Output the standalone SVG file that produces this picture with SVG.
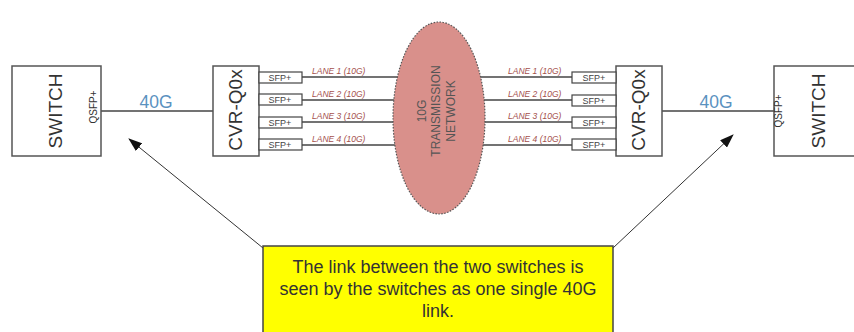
<svg xmlns="http://www.w3.org/2000/svg" width="854" height="332" viewBox="0 0 854 332">
<style>
.box{fill:#fff;stroke:#555;stroke-width:1.5}
.sfp{fill:#fff;stroke:#444;stroke-width:1.2}
.ln{stroke:#444;stroke-width:1.3;fill:none}
.big{font-family:"Liberation Sans",Arial,sans-serif;font-size:19px;fill:#333;text-anchor:middle}
.sm{font-family:"Liberation Sans",Arial,sans-serif;font-size:9px;fill:#444;text-anchor:middle}
.q{font-family:"Liberation Sans",Arial,sans-serif;font-size:10px;fill:#333;text-anchor:middle}
.lane{font-family:"Liberation Sans",Arial,sans-serif;font-size:8.5px;font-style:italic;fill:#a4504c}
.g{font-family:"Liberation Sans",Arial,sans-serif;font-size:17.5px;fill:#5a92bf;text-anchor:middle}
.net{font-family:"Liberation Sans",Arial,sans-serif;font-size:12px;fill:#555;text-anchor:middle}
.note{font-family:"Liberation Sans",Arial,sans-serif;font-size:18px;fill:#333;text-anchor:middle}
</style>
<defs>
<marker id="ah" viewBox="0 0 14 10" refX="13" refY="5" markerWidth="14" markerHeight="10" markerUnits="userSpaceOnUse" orient="auto">
<path d="M0,0 L14,5 L0,10 z" fill="#111"/>
</marker>
</defs>
<g id="connectors">
<line class="ln" x1="101" y1="111" x2="213" y2="111"/>
<line class="ln" x1="662" y1="111" x2="774" y2="111"/>
<line class="ln" x1="302" y1="77" x2="420" y2="77"/>
<line class="ln" x1="302" y1="100" x2="420" y2="100"/>
<line class="ln" x1="302" y1="122" x2="420" y2="122"/>
<line class="ln" x1="302" y1="145" x2="420" y2="145"/>
<line class="ln" x1="456" y1="77" x2="572" y2="77"/>
<line class="ln" x1="456" y1="100" x2="572" y2="100"/>
<line class="ln" x1="456" y1="122" x2="572" y2="122"/>
<line class="ln" x1="456" y1="145" x2="572" y2="145"/>
<line x1="263" y1="248" x2="129" y2="139" stroke="#333" stroke-width="1" marker-end="url(#ah)"/>
<line x1="613" y1="248" x2="733" y2="135" stroke="#333" stroke-width="1" marker-end="url(#ah)"/>
<text class="g" x="156" y="108">40G</text>
<text class="g" x="716" y="108">40G</text>
<text class="lane" x="312" y="74">LANE 1 (10G)</text>
<text class="lane" x="312" y="97">LANE 2 (10G)</text>
<text class="lane" x="312" y="119">LANE 3 (10G)</text>
<text class="lane" x="312" y="142">LANE 4 (10G)</text>
<text class="lane" x="508" y="74">LANE 1 (10G)</text>
<text class="lane" x="508" y="97">LANE 2 (10G)</text>
<text class="lane" x="508" y="119">LANE 3 (10G)</text>
<text class="lane" x="508" y="142">LANE 4 (10G)</text>
</g>
<g id="switch-left">
<rect class="box" x="12" y="66" width="89" height="90"/>
<text class="big" transform="translate(62,111) rotate(-90)">SWITCH</text>
<text class="q" transform="translate(97,107) rotate(-90)">QSFP+</text>
</g>
<g id="cvr-left">
<rect class="box" x="213" y="66" width="46" height="90"/>
<text class="big" transform="translate(242,110) rotate(-90)">CVR-Q0x</text>
<rect class="sfp" x="259" y="72" width="43" height="11"/>
<rect class="sfp" x="259" y="94" width="43" height="11"/>
<rect class="sfp" x="259" y="117" width="43" height="11"/>
<rect class="sfp" x="259" y="139" width="43" height="11"/>
<text class="sm" x="280" y="81">SFP+</text>
<text class="sm" x="280" y="103">SFP+</text>
<text class="sm" x="280" y="126">SFP+</text>
<text class="sm" x="280" y="148">SFP+</text>
</g>
<g id="network">
<ellipse cx="439" cy="118" rx="46" ry="96" fill="#d9908b" stroke="#555" stroke-width="1.2" stroke-dasharray="1.5,1.5"/>
<text class="net" transform="translate(436,111) rotate(-90)"><tspan x="0" y="-10">10G</tspan><tspan x="0" y="4">TRANSMISSION</tspan><tspan x="0" y="19">NETWORK</tspan></text>
</g>
<g id="cvr-right">
<rect class="box" x="616" y="66" width="46" height="90"/>
<text class="big" transform="translate(645,110) rotate(-90)">CVR-Q0x</text>
<rect class="sfp" x="572" y="72" width="44" height="11"/>
<rect class="sfp" x="572" y="95" width="44" height="11"/>
<rect class="sfp" x="572" y="117" width="44" height="11"/>
<rect class="sfp" x="572" y="139" width="44" height="11"/>
<text class="sm" x="594" y="81">SFP+</text>
<text class="sm" x="594" y="104">SFP+</text>
<text class="sm" x="594" y="126">SFP+</text>
<text class="sm" x="594" y="148">SFP+</text>
</g>
<g id="switch-right">
<rect class="box" x="774" y="66" width="90" height="90"/>
<text class="big" transform="translate(825,111) rotate(-90)">SWITCH</text>
<text class="q" transform="translate(782,111) rotate(-90)">QSFP+</text>
</g>
<g id="note">
<rect x="263" y="246" width="350" height="100" fill="#ffff00" stroke="#444" stroke-width="1.5"/>
<text class="note" x="438" y="273">The link between the two switches is</text>
<text class="note" x="438" y="295">seen by the switches as one single 40G</text>
<text class="note" x="438" y="317">link.</text>
</g>
</svg>
